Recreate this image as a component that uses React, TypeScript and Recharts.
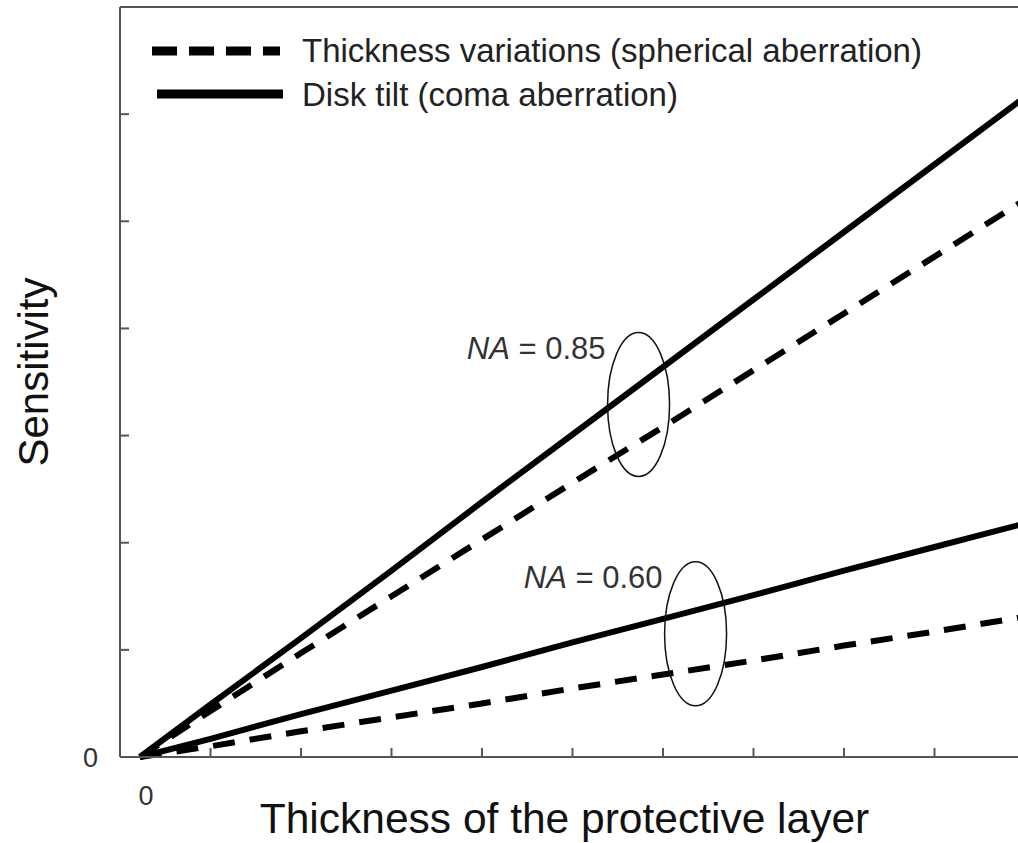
import { LineChart, Line, XAxis, YAxis, Legend, ReferenceDot, Label } from "recharts";

// thickness of the protective layer (arbitrary units, tick = 1)
const thickness = [0.22, 1, 2, 3, 4, 5, 6, 7, 8, 9, 10];
// sensitivity, NA = 0.85
const coma085 = [0, 0.49, 1.11, 1.74, 2.38, 3.01, 3.64, 4.27, 4.9, 5.53, 6.16];
const spherical085 = [0, 0.43, 0.97, 1.5, 2.03, 2.56, 3.08, 3.61, 4.14, 4.67, 5.2];
// sensitivity, NA = 0.60
const coma060 = [0, 0.17, 0.4, 0.62, 0.84, 1.07, 1.29, 1.51, 1.74, 1.96, 2.18];
const spherical060 = [0, 0.1, 0.24, 0.37, 0.5, 0.64, 0.77, 0.9, 1.04, 1.17, 1.31];

const xTicks = [0, 1, 2, 3, 4, 5, 6, 7, 8, 9, 10];
const yTicks = [0, 1, 2, 3, 4, 5, 6, 7];

const legendLabels = [
  "Thickness variations (spherical aberration)",
  "Disk tilt (coma aberration)",
];

// NA annotations: ellipse centres in data units
const naValues = ["0.85", "0.60"];
const naCenterX = [5.73, 6.36];
const naCenterY = [3.29, 1.15];

const data = thickness.map((t, i) => ({
  t,
  c85: coma085[i],
  s85: spherical085[i],
  c60: coma060[i],
  s60: spherical060[i],
}));

const FONT = '"Liberation Sans", Arial, Helvetica, sans-serif';
const AXIS = { stroke: "#555", strokeWidth: 2 };
const DASH = "22 15";

function LegendBox() {
  return (
    <svg width={960} height={120} style={{ display: "block" }}>
      <line x1={152} x2={280} y1={51} y2={51} stroke="#000" strokeWidth={9} strokeDasharray="25 12" />
      <text x={302} y={62} fontSize={33} fill="#222" fontFamily={FONT}>
        {legendLabels[0]}
      </text>
      <line x1={157} x2={283} y1={94} y2={94} stroke="#000" strokeWidth={9} />
      <text x={302} y={106} fontSize={33} fill="#222" fontFamily={FONT}>
        {legendLabels[1]}
      </text>
    </svg>
  );
}

function XTick(props: any) {
  const { x, y, payload } = props;
  if (payload.value !== 0) return <g />;
  return (
    <text x={x + 26} y={y} dy="0.71em" textAnchor="middle" fontSize={27} fill="#333" fontFamily={FONT}>
      0
    </text>
  );
}

function XTitle(props: any) {
  const vb = props.viewBox ?? { x: 120, y: 757, width: 905, height: 60 };
  return (
    <text x={vb.x + vb.width / 2 - 8} y={833} textAnchor="middle" fontSize={42.5} fill="#111" fontFamily={FONT}>
      Thickness of the protective layer
    </text>
  );
}

function YTitle(props: any) {
  const vb = props.viewBox ?? { x: 60, y: 7, width: 60, height: 750 };
  const cx = 33;
  const cy = vb.y + vb.height / 2 - 10;
  return (
    <text
      x={cx}
      y={cy}
      transform={`rotate(-90 ${cx} ${cy})`}
      textAnchor="middle"
      dominantBaseline="central"
      fontSize={42}
      fill="#111"
      fontFamily={FONT}
    >
      Sensitivity
    </text>
  );
}

function NaMark(props: any) {
  const { cx, cy, value } = props;
  return (
    <g>
      <ellipse cx={cx} cy={cy} rx={31} ry={72} fill="none" stroke="#111" strokeWidth={1.5} />
      <text x={cx - 33} y={cy - 72 + 26} textAnchor="end" fontSize={31} fill="#333" fontFamily={FONT}>
        <tspan fontStyle="italic">NA</tspan> = {value}
      </text>
    </g>
  );
}

export default function App() {
  return (
    <div
      style={{
        position: "absolute",
        left: 0,
        top: 0,
        width: 1018,
        height: 843,
        overflow: "hidden",
        background: "#fff",
      }}
    >
      <LineChart
        width={1045}
        height={843}
        data={data}
        margin={{ top: 5, right: 10, bottom: 26, left: 60 }}
      >
        <XAxis
          dataKey="t"
          type="number"
          domain={[0, 10]}
          ticks={xTicks}
          interval={0}
          tickSize={-9}
          tickMargin={38}
          axisLine={AXIS}
          tickLine={AXIS}
          tick={<XTick />}
          height={60}
        >
          <Label content={<XTitle />} />
        </XAxis>
        <XAxis
          xAxisId="top"
          orientation="top"
          type="number"
          domain={[0, 10]}
          ticks={xTicks}
          interval={0}
          tickSize={-9}
          axisLine={AXIS}
          tickLine={AXIS}
          tick={false}
          height={2}
        />
        <YAxis
          type="number"
          domain={[0, 7]}
          ticks={yTicks}
          interval={0}
          tickSize={-9}
          tickMargin={31}
          axisLine={AXIS}
          tickLine={AXIS}
          tickFormatter={(v: number) => (v === 0 ? "0" : "")}
          tick={{ fontSize: 27, fill: "#333", fontFamily: FONT }}
          width={60}
        >
          <Label content={<YTitle />} />
        </YAxis>
        <YAxis
          yAxisId="right"
          orientation="right"
          type="number"
          domain={[0, 7]}
          ticks={yTicks}
          interval={0}
          tickSize={-9}
          axisLine={AXIS}
          tickLine={AXIS}
          tick={false}
          width={10}
        />
        <Legend
          layout="vertical"
          align="center"
          verticalAlign="middle"
          content={() => <LegendBox />}
          wrapperStyle={{ position: "absolute", top: 0, left: 0, width: 960, height: 120 }}
        />
        <Line type="linear" dataKey="s85" stroke="#000" strokeWidth={6} strokeDasharray={DASH} dot={false} isAnimationActive={false} />
        <Line type="linear" dataKey="c85" stroke="#000" strokeWidth={6} dot={false} isAnimationActive={false} />
        <Line type="linear" dataKey="s60" stroke="#000" strokeWidth={6} strokeDasharray={DASH} dot={false} isAnimationActive={false} />
        <Line type="linear" dataKey="c60" stroke="#000" strokeWidth={6} dot={false} isAnimationActive={false} />
        {naValues.map((v, i) => (
          <ReferenceDot
            key={v}
            x={naCenterX[i]}
            y={naCenterY[i]}
            r={0}
            shape={(p: any) => <NaMark {...p} value={v} />}
          />
        ))}
      </LineChart>
    </div>
  );
}
